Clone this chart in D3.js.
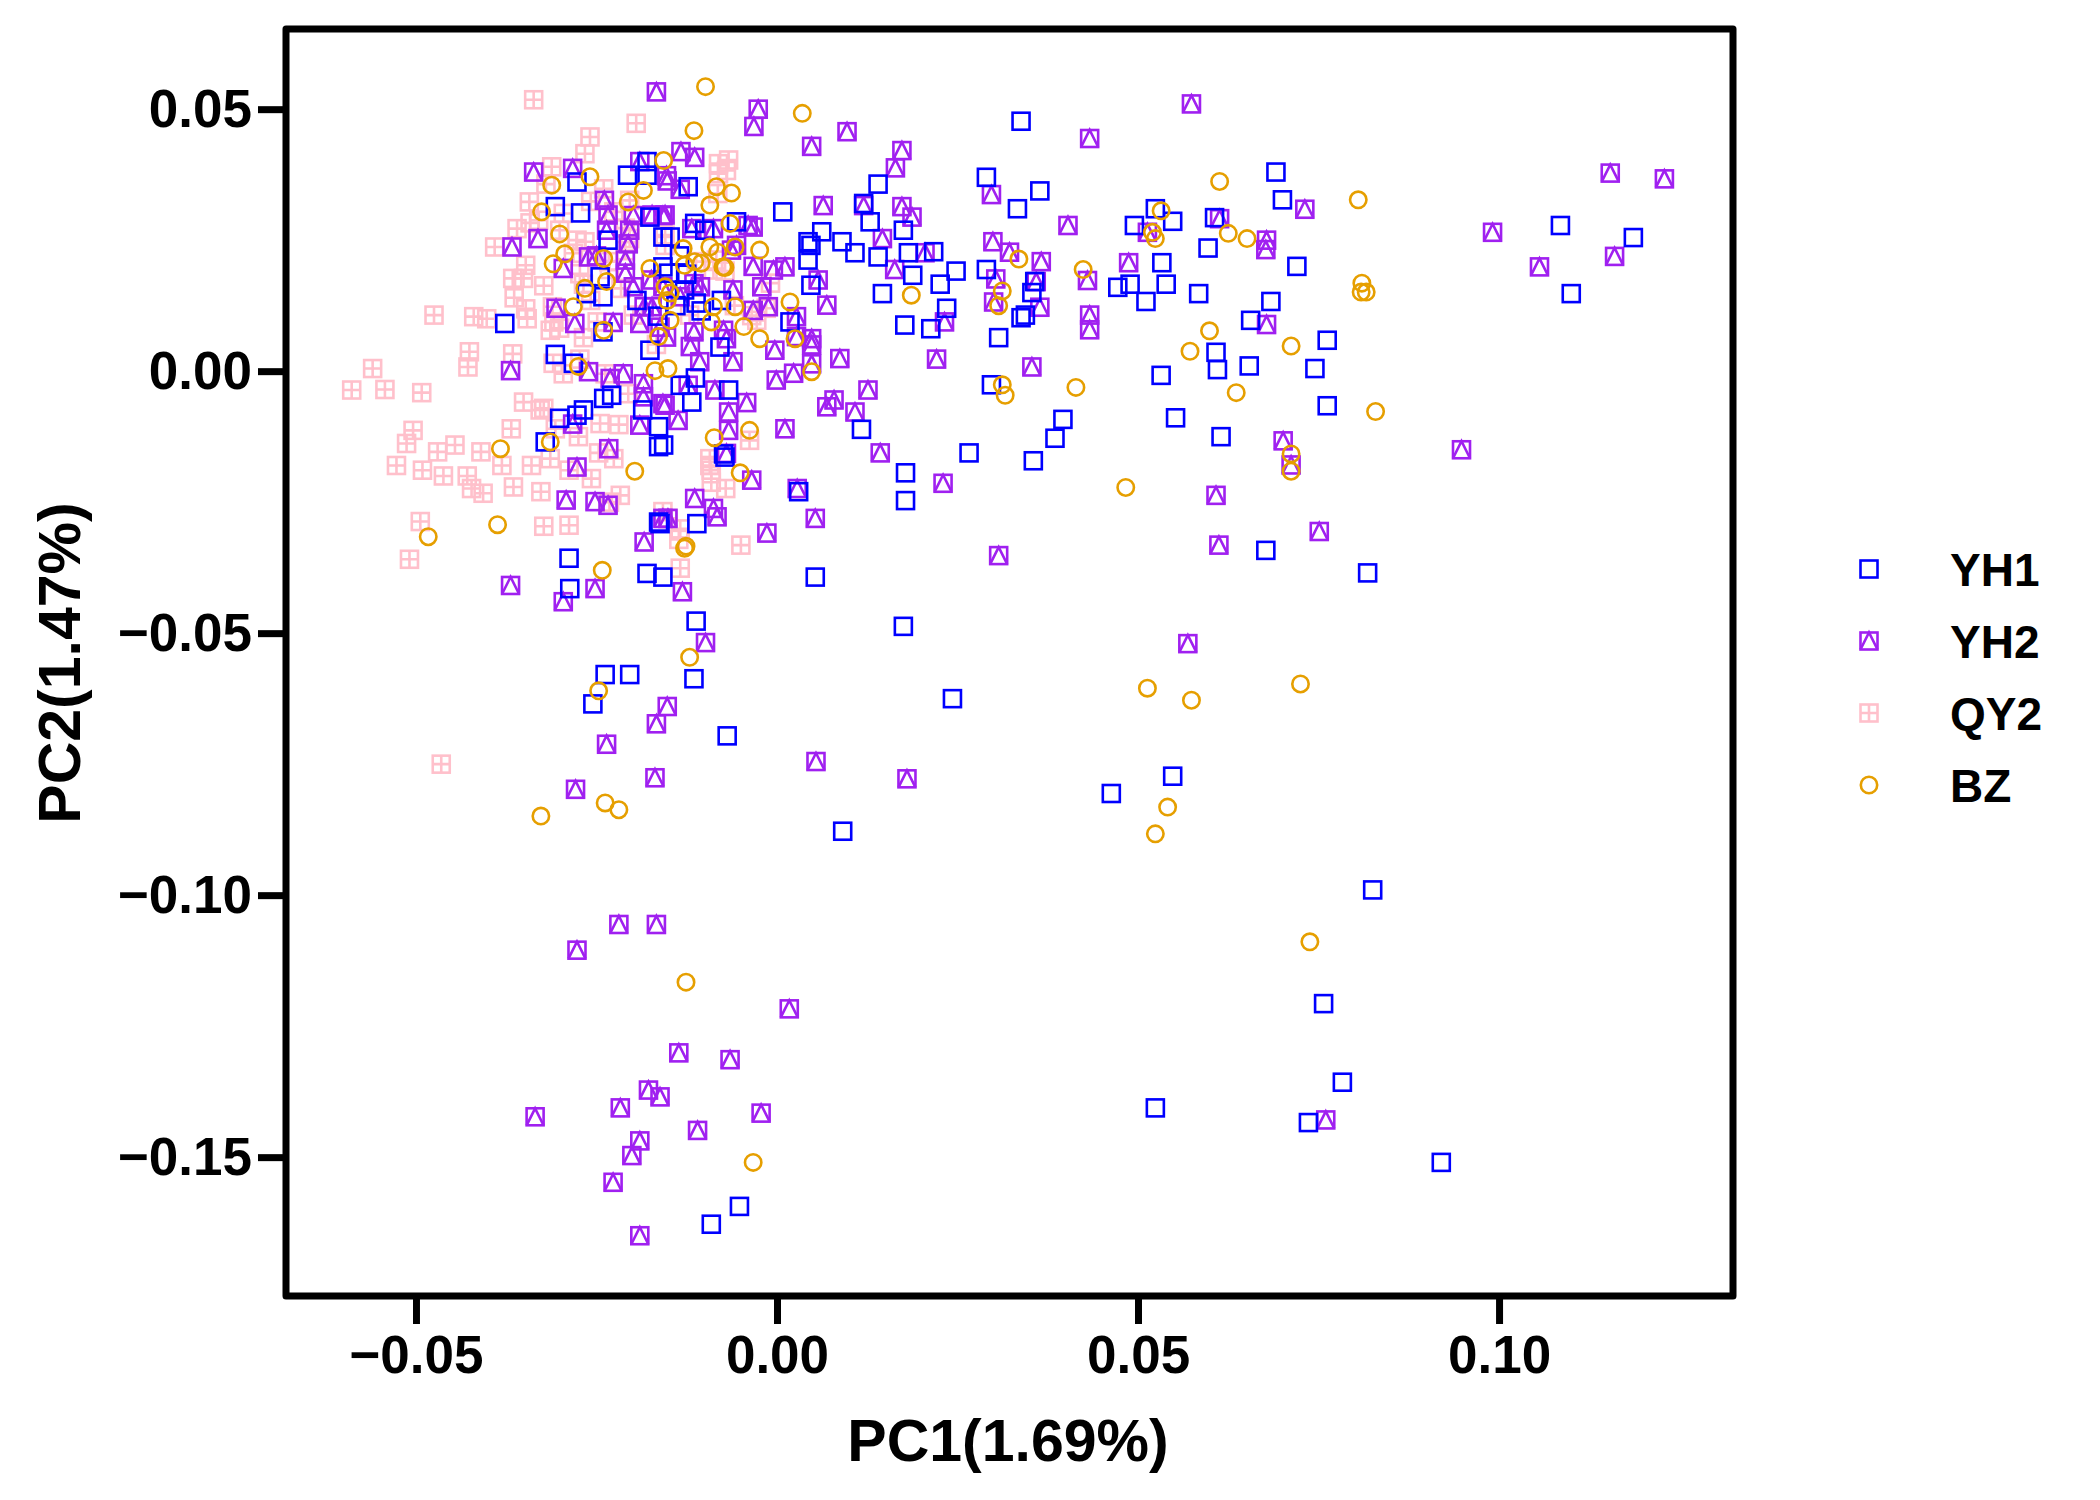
<!DOCTYPE html>
<html>
<head>
<meta charset="utf-8">
<script src="https://cdn.jsdelivr.net/npm/d3@7"></script>
<style>
  body { margin: 0; background: #fff; }
  text { font-family: "Liberation Sans", Arial, sans-serif; font-weight: bold; }
</style>
</head>
<body>
<div id="pca-plot"></div>
<script>
// group names, in legend order
const groups = ["YH1", "YH2", "QY2", "BZ"];
const groupColors = ["#0000FF", "#A020F0", "#FFC0CB", "#E69F00"];

const xTicks = [-0.05, 0.00, 0.05, 0.10];
const yTicks = [0.05, 0.00, -0.05, -0.10, -0.15];

// [PC1, PC2] per sample
const yh1 = [
  [0.0338,0.0477],[0.029,0.037],[0.0364,0.0344],[0.0333,0.031],[0.0691,0.038],[0.070,0.0327],[0.072,0.020],
  [0.1085,0.0278],[0.1186,0.0255],[0.110,0.0148],[0.0524,0.031],[0.0548,0.0286],[0.0495,0.0278],[0.0533,0.0207],
  [0.0597,0.0235],[0.0606,0.0293],[0.0584,0.0148],[0.0511,0.0133],[0.0472,0.016],[0.0489,0.0166],[0.0539,0.0166],
  [0.0684,0.0133],[0.0656,0.0097],[0.0762,0.0059],[0.0745,0.0005],[0.0654,0.001],[0.0608,0.0036],[0.061,0.0003],
  [0.0532,-0.0008],[0.0762,-0.0066],[0.0552,-0.0089],[0.0615,-0.0125],[0.0396,-0.0092],[0.0385,-0.0128],
  [0.0355,-0.0171],[0.0266,-0.0156],[0.0178,-0.0194],[0.0178,-0.0247],[0.0297,-0.0026],[0.0307,0.0064],
  [0.0338,0.0102],[0.0344,0.0107],[0.0357,0.0171],[0.0353,0.015],[0.029,0.0194],
  [0.0008,0.0304],[0.0062,0.0266],[0.0043,0.0247],[0.0047,0.024],[0.0043,0.0212],[0.0047,0.0164],[0.009,0.0247],
  [0.0108,0.0226],[0.014,0.0357],[0.012,0.032],[0.0129,0.0285],[0.014,0.0218],[0.0175,0.0269],[0.0182,0.0226],
  [0.0188,0.0183],[0.0146,0.0148],[0.0217,0.0228],[0.0248,0.0191],[0.0226,0.0166],[0.0235,0.012],[0.0177,0.0088],
  [0.0213,0.0081],[0.0018,0.0094],[-0.0056,0.0285],[-0.01,0.0269],[-0.0114,0.0282],[-0.0077,0.0135],
  [-0.0112,0.013],[-0.0148,0.0256],[-0.015,0.0187],[-0.0123,0.0352],
  [-0.018,0.040],[-0.018,0.0374],[-0.0277,0.0361],[-0.0307,0.0314],[-0.0272,0.0302],[-0.0207,0.0374],
  [-0.0158,0.0256],[-0.0234,0.025],[-0.0245,0.018],[-0.0264,0.0148],[-0.0241,0.0142],[-0.0194,0.0135],
  [-0.0377,0.0091],[-0.0241,0.0075],[-0.0176,0.0294],[-0.0158,0.0199],
  [-0.0135,0.022],[-0.0125,0.0185],[-0.014,0.0125],[-0.0105,0.0115],[-0.0165,0.0105],[-0.0128,0.0155],
  [-0.0307,0.0032],[-0.0282,0.0015],[-0.024,-0.0052],[-0.0229,-0.0046],[-0.0301,-0.009],[-0.0268,-0.0074],
  [-0.0277,-0.0084],[-0.0321,-0.0135],[-0.0164,-0.0144],[-0.0164,-0.0106],[-0.0162,-0.0291],[-0.0288,-0.0357],
  [-0.0287,-0.0415],[-0.018,-0.0386],[-0.0158,-0.0393],[-0.0186,-0.0074],[-0.0176,0.004],
  [-0.0079,0.0046],[-0.0067,-0.0036],[-0.0118,-0.0059],[-0.0134,-0.0027],[-0.0113,-0.0013],[-0.0157,-0.0141],
  [-0.0072,-0.0164],[0.0117,-0.0111],[0.003,-0.023],[-0.0111,-0.0291],[0.0053,-0.0393],[-0.0074,-0.0158],
  [0.0175,-0.0487],[0.0243,-0.0625],[0.0091,-0.0878],[-0.0069,-0.0696],[-0.0112,-0.0477],[-0.0115,-0.0587],
  [-0.0204,-0.0579],[-0.0238,-0.0579],[-0.0255,-0.0635],[-0.0164,-0.0288],[0.0463,-0.0806],[0.0548,-0.0773],
  [0.0825,-0.099],[0.0757,-0.1207],[0.0783,-0.1357],[0.0736,-0.1434],[0.0524,-0.1406],[0.092,-0.151],
  [-0.0091,-0.1628],[-0.0052,-0.1594],[0.0677,-0.0342],[0.0818,-0.0385]
];

const yh2 = [
  [-0.0167,0.0533],[-0.0026,0.05],[-0.0032,0.0467],[0.0048,0.0429],[0.0097,0.0457],[0.0173,0.0421],[0.0164,0.0388],
  [0.0574,0.051],[0.0433,0.0444],[0.1154,0.0378],[0.1229,0.0367],[0.0991,0.0265],[0.1056,0.0199],[0.116,0.0219],
  [0.0948,-0.015],[0.0297,0.0337],[0.0403,0.0278],[0.0299,0.0247],[0.0322,0.0227],[0.0366,0.0209],[0.0359,0.0171],
  [0.0303,0.0176],[0.043,0.0173],[0.0433,0.0107],[0.0433,0.0079],[0.0364,0.0122],[0.0353,0.0008],[0.0221,0.0023],
  [0.0232,0.0094],[0.0487,0.0207],[0.0513,0.0265],[0.0613,0.0291],[0.0678,0.025],[0.0677,0.0232],[0.0731,0.0309],
  [0.0678,0.0089],[0.0701,-0.0133],[0.0712,-0.0179],[0.0751,-0.0306],[0.0608,-0.0237],[0.0612,-0.0332],
  [0.0569,-0.052],[0.0307,-0.0352],[0.023,-0.0214],[0.0143,-0.0156],
  [0.0126,-0.0036],[0.0079,-0.0055],[0.0069,-0.0068],[0.0108,-0.0078],[0.0011,-0.011],[-0.0042,-0.006],
  [-0.0067,-0.0078],[-0.0086,-0.0036],[-0.0123,-0.0027],[-0.0155,-0.0065],[-0.0137,-0.0094],[-0.0067,-0.0113],
  [-0.007,-0.0157],[-0.0035,-0.0208],[0.0028,-0.0224],[0.0053,-0.0281],[-0.0014,-0.0309],[-0.0114,-0.0243],
  [-0.0088,-0.0262],[-0.0083,-0.0278],[-0.0151,-0.0281],[-0.0131,-0.0421],[0.0087,0.0024],[-0.0153,0.0065],
  [-0.012,0.0047],[-0.0107,0.0018],[-0.007,0.0062],[-0.0061,0.0018],[-0.0003,0.004],[0.0048,0.005],
  [0.0048,0.0014],[0.0023,-0.0004],[-0.0001,-0.0017],
  [-0.0099,-0.0518],[-0.0152,-0.064],[-0.0167,-0.0673],[0.0054,-0.0745],[0.018,-0.0778],[-0.0169,-0.0776],
  [-0.0236,-0.0712],[-0.0279,-0.0798],[-0.0167,-0.1056],[-0.0219,-0.1056],[-0.0277,-0.1105],[0.0017,-0.1217],
  [-0.0136,-0.1301],[-0.0065,-0.1314],[-0.0022,-0.1416],[-0.0335,-0.1423],[-0.0217,-0.1406],[-0.0178,-0.1372],
  [-0.0162,-0.1385],[-0.011,-0.1449],[-0.019,-0.1469],[-0.0201,-0.1497],[-0.0227,-0.1548],[-0.019,-0.165],
  [0.076,-0.1429],
  [-0.0369,0.0001],[-0.0261,-0.0001],[-0.0231,-0.0014],[-0.0213,-0.0005],[-0.0185,-0.0024],[-0.0185,-0.0049],
  [-0.0158,-0.0062],[-0.019,-0.0103],[-0.0283,-0.0101],[-0.0233,-0.0148],[-0.0277,-0.0183],[-0.0292,-0.0246],
  [-0.0252,-0.0249],[-0.0234,-0.0256],[-0.0184,-0.0326],[-0.0158,-0.0281],[-0.0369,-0.0409],[-0.0252,-0.0415],
  [-0.0296,-0.044],
  [-0.0239,0.0326],[-0.019,0.040],[-0.0153,0.0373],[-0.0234,0.0298],[-0.0199,0.0297],[-0.0173,0.0298],
  [-0.0158,0.0297],[-0.0236,0.0269],[-0.0204,0.0269],[-0.0367,0.0237],[-0.0331,0.0253],[-0.0206,0.0243],
  [-0.0261,0.0218],[-0.025,0.022],[-0.021,0.0212],[-0.0296,0.0196],[-0.021,0.0187],[-0.0199,0.0161],
  [-0.0174,0.0174],[-0.0158,0.0161],[-0.0184,0.0123],[-0.0173,0.0123],[-0.0306,0.012],[-0.028,0.0091],
  [-0.0227,0.0093],[-0.019,0.0091],[-0.0162,0.0084],[-0.0337,0.038],[-0.0283,0.0387],
  [-0.0133,0.0419],[-0.0114,0.0408],[-0.0152,0.0363],[-0.0134,0.0347],[0.0064,0.0316],[0.012,0.0316],
  [0.0173,0.0314],[0.0187,0.0294],[0.0146,0.0253],[0.0205,0.0226],[0.0163,0.0194],[0.03,0.0132],
  [0.0057,0.0174],[0.0069,0.0126],[0.0027,0.0104],[0.0027,0.0066],[0.0048,0.0062],[0.0011,0.0199],
  [-0.0005,0.0193],[-0.0021,0.0161],[-0.0033,0.02],[-0.0063,0.0231],[-0.0056,0.024],[-0.004,0.0278],
  [-0.0033,0.0275],[-0.0088,0.0272],[-0.0118,0.0272],[-0.0155,0.0298],[-0.0061,0.0155],[-0.0012,0.0123],
  [-0.0033,0.0116],[-0.0074,0.0078],[-0.0115,0.0075],[-0.0115,0.0167],[-0.0134,0.0142],[-0.0106,0.0161]
];

const qy2 = [
  [-0.0337,0.0518],[-0.0195,0.0473],[-0.0259,0.0447],[-0.0266,0.0415],[-0.0312,0.039],[-0.0343,0.0323],
  [-0.036,0.0272],[-0.0391,0.0237],[-0.0348,0.0202],[-0.0366,0.0177],[-0.0351,0.0177],[-0.0475,0.0107],
  [-0.042,0.0104],[-0.0402,0.01],[-0.0346,0.01],[-0.0348,0.0119],[-0.0311,0.0123],[-0.0314,0.0078],
  [-0.0277,0.025],[-0.033,0.0288],[-0.0296,0.0301],[-0.024,0.0348],[-0.0226,0.0304],[-0.0233,0.0209],
  [-0.0273,0.0186],[-0.0204,0.0326],[-0.0282,0.0225],[-0.0301,0.0269],
  [-0.0067,0.0403],[-0.0081,0.0396],[-0.0081,0.0377],[-0.007,0.0383],[-0.0155,0.026],[-0.0155,0.024],
  [-0.0088,0.0193],[-0.0028,0.0097],[-0.0035,0.0106],[-0.0084,0.0212],
  [-0.0426,0.0037],[-0.0428,0.0008],[-0.056,0.0005],[-0.0589,-0.0036],[-0.0543,-0.0035],[-0.0492,-0.0041],
  [-0.0504,-0.0113],[-0.0513,-0.0138],[-0.0527,-0.018],[-0.0491,-0.0189],[-0.047,-0.0154],[-0.0446,-0.0141],
  [-0.0462,-0.02],[-0.0429,-0.02],[-0.041,-0.0154],[-0.0423,-0.0224],[-0.0407,-0.0233],[-0.0381,-0.018],
  [-0.0365,-0.0221],[-0.034,-0.018],[-0.0327,-0.023],[-0.0328,-0.0074],[-0.0314,-0.0167],[-0.0257,-0.0205],
  [-0.0245,-0.01],[-0.0275,-0.0125],[-0.0217,-0.0237],[-0.0226,-0.0167],[-0.0288,-0.0294],[-0.0494,-0.0287],
  [-0.0509,-0.0359],[-0.0296,-0.0005],[-0.031,0.0015],[-0.0158,-0.0268],
  [-0.005,-0.0332],[-0.0134,-0.0376],[-0.0093,-0.0167],[-0.0093,-0.018],[-0.0038,-0.0132],[-0.0151,-0.0281],
  [-0.0465,-0.075],[-0.0309,0.0094],[-0.0301,0.0082],[-0.0268,0.0064],[-0.0268,0.0166],[-0.0258,0.0135],
  [-0.0249,0.0094],[-0.0232,0.0194],[-0.0216,0.0158],[-0.021,0.023],[-0.0204,0.0253],[-0.021,0.0273],
  [-0.0112,0.0209],[-0.0082,0.0339],[-0.0072,0.0191],[-0.0059,0.0125],[-0.0009,0.0168],[-0.0015,0.012],
  [-0.0121,0.0107],[-0.0167,0.0051],[-0.0199,0.0107],[-0.0273,0.0023],[-0.0238,-0.0005],[-0.0206,-0.0043],
  [-0.0266,0.0247],[-0.0258,0.0324],[-0.0323,0.0163],[-0.0366,0.0033],[-0.0351,-0.0059],[-0.0323,-0.0071],
  [-0.0368,-0.011],[-0.0307,-0.011],[-0.0288,-0.0189],[-0.0323,-0.0296],[-0.0247,-0.0156],[-0.0219,-0.0102],
  [-0.0232,-0.025],[-0.0134,-0.0301],[-0.0136,-0.0321],[-0.0071,-0.0224],[-0.0091,-0.0189],[-0.0091,-0.0212],
  [-0.0364,0.014],[-0.0342,0.0283],[-0.032,0.0357]
];

const bz = [
  [-0.0099,0.0543],[0.0035,0.0492],[-0.0115,0.0459],[0.0532,0.0306],[0.0613,0.0362],[0.0625,0.0263],
  [0.0651,0.0253],[0.052,0.0265],[0.0524,0.0253],[0.0424,0.0194],[0.0335,0.0214],[0.0312,0.0153],
  [0.0307,0.0125],[0.0316,-0.0046],[0.0312,-0.0026],[0.0414,-0.0031],[0.0599,0.0077],[0.0572,0.0038],
  [0.0636,-0.0041],[0.0712,0.0048],[0.0805,0.0327],[0.081,0.0168],[0.0816,0.0151],[0.0809,0.0151],
  [0.0829,-0.0077],[0.0712,-0.0158],[0.0712,-0.0191],[0.0483,-0.0222],[0.0513,-0.0605],[0.0574,-0.0628],
  [0.0725,-0.0597],[0.0541,-0.0832],[0.0524,-0.0883],[0.0738,-0.1089],[-0.0126,-0.1166],[-0.0033,-0.151],
  [-0.0327,-0.0849],[-0.0238,-0.0824],[-0.0219,-0.0837],[-0.0247,-0.061],[-0.0121,-0.0546],[-0.0242,-0.038],
  [-0.0483,-0.0316],[-0.0387,-0.0293],[-0.0383,-0.0148],[-0.0314,-0.0135],[-0.0197,-0.0191],[-0.0126,-0.0334],
  [-0.0128,-0.0338],[0.0186,0.0145],
  [-0.0151,0.0005],[0.0048,-0.0001],[-0.0087,-0.0127],[-0.0038,-0.0113],[-0.0051,-0.0194],
  [-0.0157,0.0402],[-0.0084,0.0352],[-0.0063,0.034],[-0.0093,0.0317],[-0.0065,0.0282],[-0.0024,0.0231],
  [-0.0058,0.0237],[-0.0093,0.0237],[-0.013,0.0234],[-0.0128,0.0202],[-0.0114,0.0209],[-0.0105,0.0206],
  [-0.0075,0.0199],[-0.0155,0.0161],[-0.0148,0.0097],[-0.0088,0.0123],[-0.0058,0.0123],[-0.0091,0.0094],
  [-0.0046,0.0085],[-0.0024,0.0062],[0.0018,0.0132],[0.0025,0.0062],
  [-0.0312,0.0355],[-0.0259,0.0371],[-0.0326,0.0304],[-0.0301,0.0262],[-0.0294,0.0224],[-0.031,0.0205],
  [-0.0206,0.0323],[-0.0185,0.0345],[-0.0236,0.0171],[-0.024,0.0215],[-0.0176,0.0196],[-0.0266,0.0158],
  [-0.0282,0.0123],[-0.024,0.0078],[-0.0164,0.0066],[-0.0275,0.0009],[-0.0169,0.0001],
  [-0.0148,0.0149],[-0.0152,0.0135],[-0.0082,0.0227],[-0.0072,0.0198]
];

const width = 2100, height = 1500;
// plot frame in pixels
const frame = {left: 286, right: 1733, top: 29, bottom: 1296};

let svg = d3.select("#pca-plot")
    .append("svg")
    .attr("width", width)
    .attr("height", height);

let x = d3.scaleLinear()
    .domain([-0.068, 0.1324])
    .range([frame.left, frame.right]);

let y = d3.scaleLinear()
    .domain([-0.1765, 0.0653])
    .range([frame.bottom, frame.top]);

const fmt = d3.format(".2f");
const half = 8.5;   // half side of a marker
const markStroke = 2.6;

// draws one marker of a group into a <g> placed at the point
function drawMarker(g, group, color) {
    if (group === "BZ") {
        g.append("circle").attr("r", 8.2)
            .attr("fill", "none").attr("stroke", color).attr("stroke-width", markStroke);
        return;
    }
    g.append("rect")
        .attr("x", -half).attr("y", -half)
        .attr("width", 2 * half).attr("height", 2 * half)
        .attr("fill", "none").attr("stroke", color).attr("stroke-width", markStroke);
    if (group === "YH2") {
        g.append("path")
            .attr("d", `M${-half},${half}L0,${-half}L${half},${half}`)
            .attr("fill", "none").attr("stroke", color).attr("stroke-width", markStroke)
            .attr("stroke-linejoin", "miter");
    } else if (group === "QY2") {
        g.append("path")
            .attr("d", `M${-half},0H${half}M0,${-half}V${half}`)
            .attr("fill", "none").attr("stroke", color).attr("stroke-width", markStroke);
    }
}

// points, drawn pink first so the others sit on top
let series = [
    {name: "QY2", data: qy2},
    {name: "YH2", data: yh2},
    {name: "YH1", data: yh1},
    {name: "BZ", data: bz}
];

let pointsRef = svg.append("g");
for (const s of series) {
    let color = groupColors[groups.indexOf(s.name)];
    pointsRef.append("g")
        .selectAll("g")
        .data(s.data)
        .enter()
        .append("g")
        .attr("transform", d => `translate(${x(d[0])},${y(d[1])})`)
        .each(function() { drawMarker(d3.select(this), s.name, color); });
}

// x axis
let xAxis = svg.append("g")
    .attr("transform", `translate(0, ${frame.bottom})`)
    .call(d3.axisBottom(x).tickValues(xTicks).tickFormat(fmt).tickSize(28).tickPadding(11));

// y axis
let yAxis = svg.append("g")
    .attr("transform", `translate(${frame.left}, 0)`)
    .call(d3.axisLeft(y).tickValues(yTicks).tickFormat(fmt).tickSize(28).tickPadding(6));

for (const ax of [xAxis, yAxis]) {
    ax.select(".domain").remove();
    ax.selectAll(".tick line").attr("stroke", "#000").attr("stroke-width", 7);
    ax.selectAll(".tick text")
        .attr("fill", "#000")
        .style("font-size", "53px")
        .style("font-family", "'Liberation Sans', Arial, sans-serif")
        .style("font-weight", "bold");
}

// box around the plot
svg.append("rect")
    .attr("x", frame.left)
    .attr("y", frame.top)
    .attr("width", frame.right - frame.left)
    .attr("height", frame.bottom - frame.top)
    .attr("fill", "none")
    .attr("stroke", "#000")
    .attr("stroke-width", 7)
    .attr("stroke-linejoin", "round");

// axis titles
svg.append("text")
    .attr("x", 1008)
    .attr("y", 1461)
    .style("text-anchor", "middle")
    .style("font-size", "59px")
    .text("PC1(1.69%)");

svg.append("text")
    .attr("transform", "translate(80, 663) rotate(-90)")
    .style("text-anchor", "middle")
    .style("font-size", "59px")
    .text("PC2(1.47%)");

// legend
let legend = svg.append("g");
groups.forEach(function(name, i) {
    let row = legend.append("g")
        .attr("transform", `translate(1869, ${569 + i * 72})`);
    drawMarker(row, name, groupColors[i]);
    row.append("text")
        .attr("x", 81)
        .attr("dy", "0.36em")
        .style("font-size", "46px")
        .text(name);
});
</script>
</body>
</html>
